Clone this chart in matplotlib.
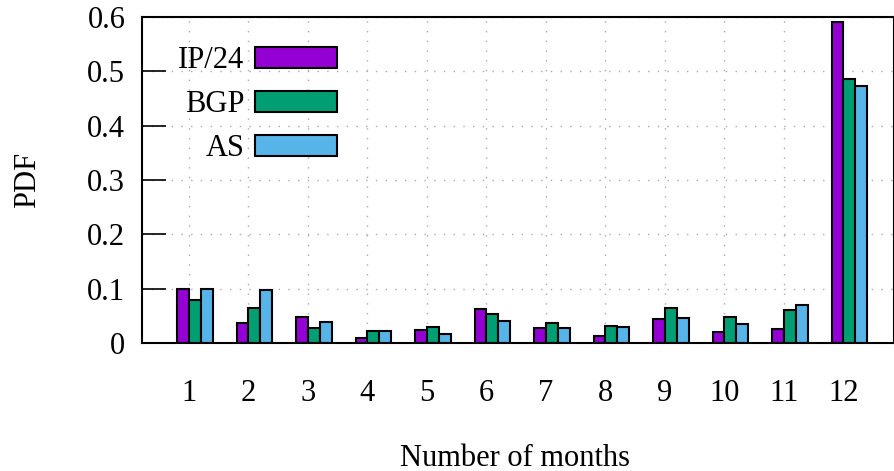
import matplotlib
matplotlib.use("Agg")
import matplotlib.pyplot as plt
import numpy as np

months = [1, 2, 3, 4, 5, 6, 7, 8, 9, 10, 11, 12]
ip24 = [0.100, 0.037, 0.047, 0.010, 0.024, 0.062, 0.027, 0.013, 0.044, 0.020, 0.025, 0.590]
bgp = [0.079, 0.065, 0.027, 0.022, 0.029, 0.053, 0.037, 0.032, 0.064, 0.047, 0.060, 0.485]
as_ = [0.100, 0.098, 0.039, 0.023, 0.017, 0.041, 0.027, 0.029, 0.046, 0.035, 0.070, 0.473]
series_names = ["IP/24", "BGP", "AS"]
colors = ["#9400D3", "#009E73", "#56B4E9"]
yticks = [0, 0.1, 0.2, 0.3, 0.4, 0.5, 0.6]
ytick_labels = ["0", "0.1", "0.2", "0.3", "0.4", "0.5", "0.6"]

FS = 22
plt.rcParams['font.family'] = ['Liberation Serif', 'DejaVu Serif']
plt.rcParams['font.size'] = FS

fig = plt.figure(figsize=(8.95, 4.71), dpi=100)
ax = fig.add_axes([142/895, 1-343/471, 752/895, 326/471])

x = np.arange(len(months)) + 1
w = 0.2
offsets = [-0.1, 0.1, 0.3]
for vals, name, c, off in zip([ip24, bgp, as_], series_names, colors, offsets):
    ax.bar(x + off, vals, width=w, color=c, edgecolor='black', linewidth=1.5, label=name, zorder=3)

ax.set_xlim(0.21, 12.85)
ax.set_ylim(0, 0.6)
ax.set_xticks(x)
ax.set_xticklabels([str(m) for m in months])
ax.set_yticks(yticks)
ax.set_yticklabels(ytick_labels)
ax.tick_params(axis='y', direction='in', length=17, width=1.2, pad=12, labelsize=FS)
ax.tick_params(axis='x', length=0, pad=26, labelsize=FS)
ax.grid(True, linestyle=(0, (1, 6)), color='#aaaaaa', linewidth=1.0, zorder=0)
for s in ax.spines.values():
    s.set_linewidth(1.5)
    s.set_zorder(4)

ax.set_xlabel("Number of months", fontsize=FS, va='center')
ax.xaxis.set_label_coords(0.496, -0.353)
ax.set_ylabel("PDF", fontsize=FS, va='center')
ax.yaxis.set_label_coords(-0.1516, 0.5)

leg = ax.legend(loc='upper right', bbox_to_anchor=(0.259, 0.91), frameon=False,
                markerfirst=False, borderpad=0, handlelength=82/30.5, handleheight=0.7,
                handletextpad=0.33, labelspacing=0.49, fontsize=FS, borderaxespad=0)
for t in leg.get_texts():
    t.set_ha('right')

fig.savefig("out.png", dpi=100)
